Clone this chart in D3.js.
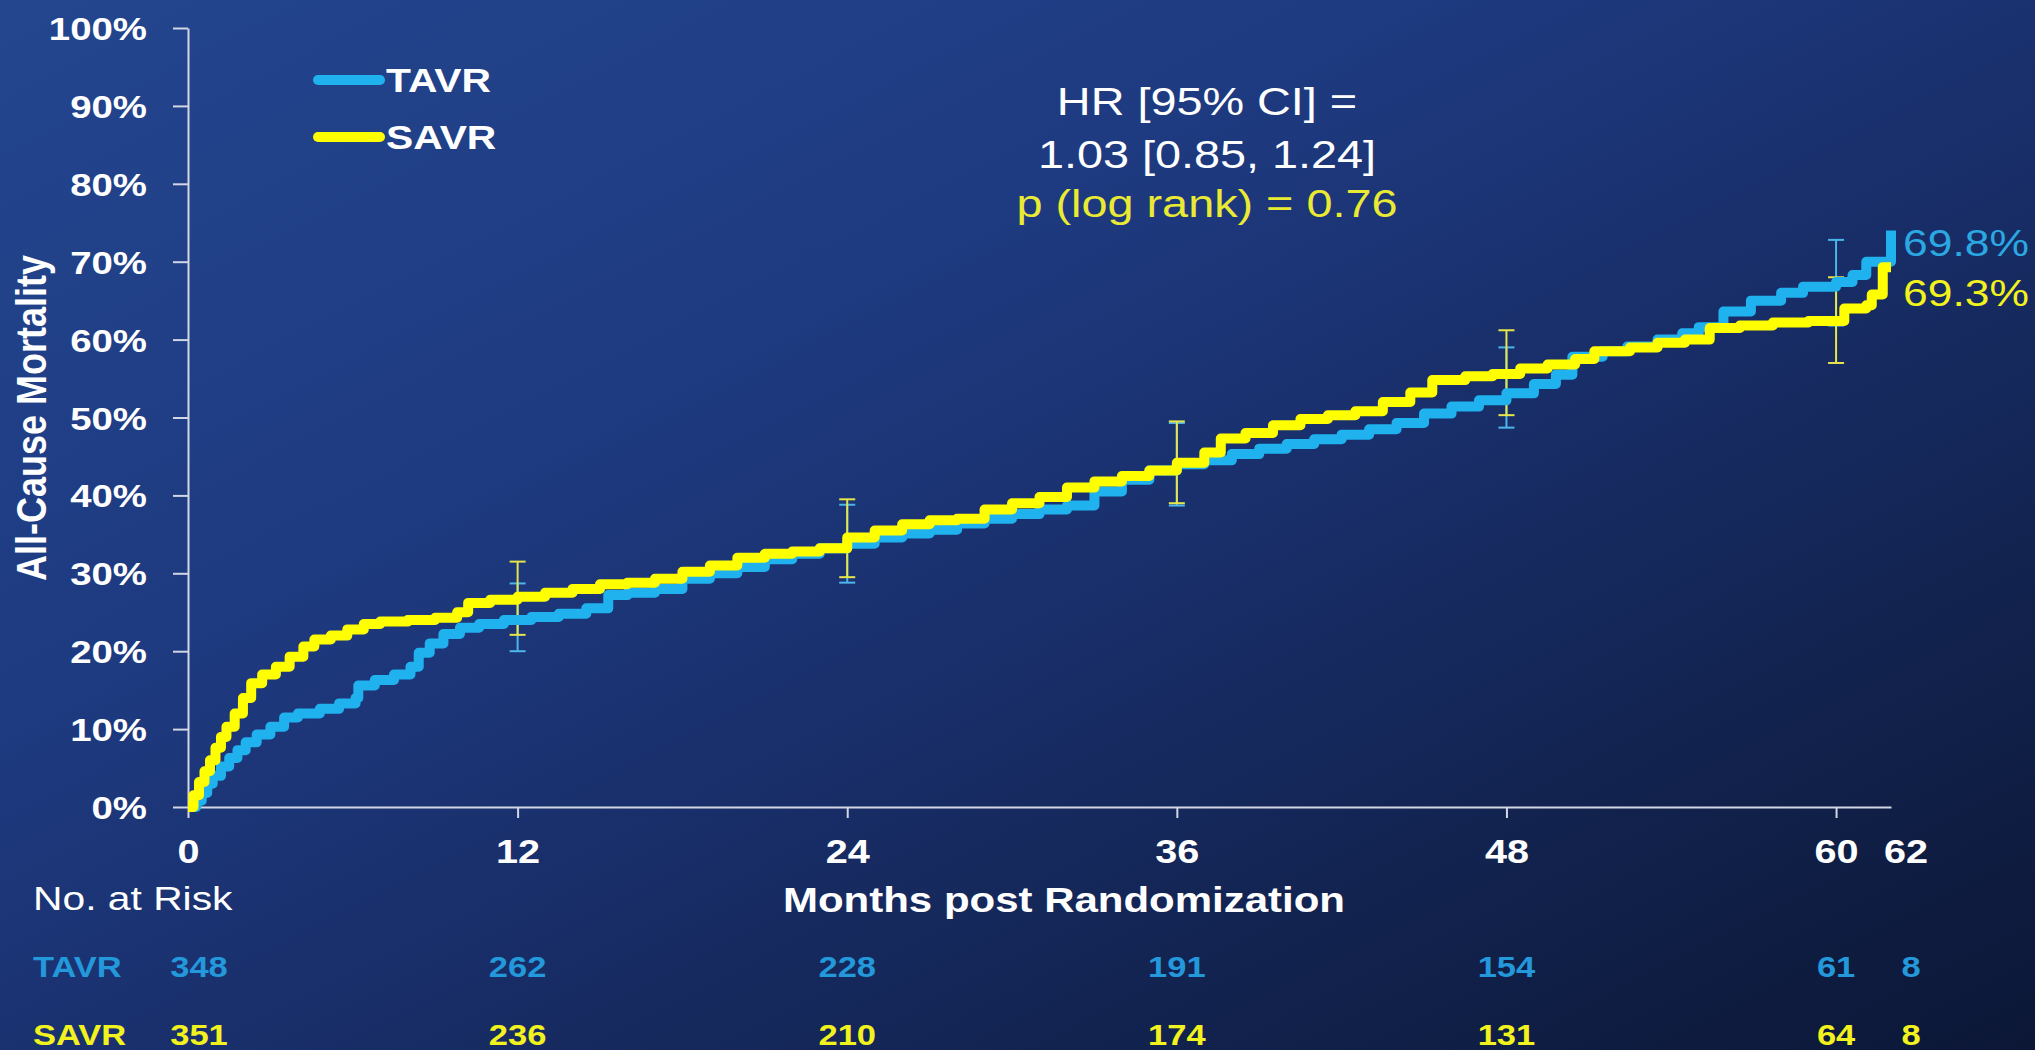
<!DOCTYPE html>
<html lang="en">
<head>
<meta charset="utf-8">
<title>All-Cause Mortality - TAVR vs SAVR</title>
<script src="https://cdn.jsdelivr.net/npm/d3@7"></script>
<style>
  html, body { margin: 0; padding: 0; background: #0c1736; }
  svg { display: block; }
</style>
</head>
<body>
<script>
// Kaplan-Meier curves, [month, % dead]
const tavrCurve = [
  [0,0],[0.3,0.8],[0.5,1.8],[0.7,3.0],[0.9,4.0],[1.2,5.2],[1.5,6.3],[1.8,7.3],[2.1,8.3],
  [2.5,9.3],[3.0,10.3],[3.5,11.5],[4.0,12.0],[4.8,12.6],[5.5,13.3],[6.1,14.0],[6.2,15.6],
  [6.8,16.3],[7.5,17.0],[8.1,18.0],[8.4,19.8],[8.8,21.0],[9.3,22.2],[9.9,23.0],[10.6,23.5],
  [11.5,24.0],[12.5,24.4],[13.5,24.8],[14.5,25.5],[15.3,27.2],[16,27.5],[17,28.0],[18,29.3],
  [19,30.0],[20,30.8],[21,31.8],[22,32.5],[23,33.2],[24,33.8],[25,34.6],[26,35.1],[27,35.6],
  [28,36.4],[29,37.0],[30,37.6],[31,38.2],[32,38.7],[33,40.5],[34,42.0],[35,43.2],[36,44.0],
  [37,44.5],[38,45.3],[39,46.0],[40,46.6],[41,47.2],[42,47.8],[43,48.5],[44,49.3],[45,50.5],
  [46,51.4],[47,52.2],[48,53.1],[49,54.3],[49.8,55.5],[50.4,57.8],[51.5,58.5],[52.4,59.1],
  [53.5,60.0],[54.4,60.8],[55,61.6],[55.9,63.6],[56.9,65.0],[58,66.0],[58.8,66.8],[60,67.4],
  [60.6,68.3],[61.1,70.0],[62,74.0]
];
const savrCurve = [
  [0,0],[0.2,1.5],[0.4,3.2],[0.6,4.6],[0.8,6.0],[1.0,7.6],[1.2,9.0],[1.4,10.3],[1.7,12.0],
  [2.0,14.0],[2.3,15.9],[2.7,17.0],[3.2,18.0],[3.7,19.3],[4.2,20.6],[4.6,21.5],[5.2,22.0],
  [5.8,22.8],[6.4,23.5],[7,23.8],[8,24.0],[9,24.3],[9.8,25.0],[10.2,26.2],[11,26.6],[12,27.0],
  [13,27.5],[14,28.0],[15,28.6],[16,28.8],[17,29.3],[18,30.2],[19,31.0],[20,32.0],[21,32.5],
  [22,32.8],[23,33.2],[24,34.6],[25,35.5],[26,36.3],[27,36.8],[28,37.0],[29,38.2],[30,39.0],
  [31,39.8],[32,41.0],[33,41.8],[34,42.5],[35,43.2],[36,44.2],[37,45.5],[37.6,47.3],[38.5,48.0],
  [39.5,49.0],[40.5,49.8],[41.5,50.3],[42.5,50.8],[43.5,52.0],[44.5,53.2],[45.3,54.8],[46.5,55.3],
  [47.5,55.6],[48.5,56.3],[49.5,56.8],[50.5,57.5],[51.2,58.5],[52.5,59.0],[53.5,59.6],[54.5,60.0],
  [55.4,61.5],[56.5,61.8],[57.7,62.2],[59,62.4],[60.3,64.0],[61.1,64.4],[61.3,65.8],[61.7,69.3],
  [62,69.3]
];

// 95% CI bars
const ciMonths = [12, 24, 36, 48, 60];
const tavrLow  = [20.0, 28.8, 38.7, 48.7, 61.8];
const tavrHigh = [28.7, 38.8, 49.3, 59.0, 72.8];
const savrLow  = [22.1, 29.5, 39.0, 50.3, 57.0];
const savrHigh = [31.5, 39.5, 49.5, 61.2, 68.0];

const yTicks = [0, 10, 20, 30, 40, 50, 60, 70, 80, 90, 100];
const xTicks = [0, 12, 24, 36, 48, 60];

// numbers at risk
const riskMonths = [0, 12, 24, 36, 48, 60, 62];
const tavrRisk = [348, 262, 228, 191, 154, 61, 8];
const savrRisk = [351, 236, 210, 174, 131, 64, 8];

const W = 2035, H = 1050;
const SX = 1.2;   // the slide text is stretched sideways
const FONT = "'Liberation Sans', Arial, sans-serif";
const blue = "#1fb2ee", yellow = "#ffff00", axisCol = "#d3d7e3";

const x = d3.scaleLinear().domain([0, 62]).range([188, 1891]);
const y = d3.scaleLinear().domain([0, 100]).range([807, 28]);

const svg = d3.select("body").append("svg")
  .attr("width", W).attr("height", H)
  .attr("font-family", FONT);

const grad = svg.append("defs").append("linearGradient")
  .attr("id", "bg").attr("x1", 0).attr("y1", 0).attr("x2", 1).attr("y2", 1);
[[0, "#23468f"], [0.35, "#1e3a80"], [0.55, "#192f6b"], [0.8, "#11214b"], [1, "#0c1736"]]
  .forEach(s => grad.append("stop").attr("offset", s[0]).attr("stop-color", s[1]));
svg.append("rect").attr("width", W).attr("height", H).attr("fill", "url(#bg)");

// helper for stretched text
function txt(parent, str, px, py, size, opts) {
  opts = opts || {};
  return parent.append("text")
    .attr("transform", `translate(${px},${py}) scale(${opts.sx || SX},1)` + (opts.rot ? ` rotate(${opts.rot})` : ""))
    .attr("text-anchor", opts.anchor || "start")
    .attr("font-size", size)
    .attr("font-weight", opts.bold ? "bold" : "normal")
    .attr("fill", opts.fill || "#fff")
    .text(str);
}

// y axis
const yAxis = svg.append("g")
  .attr("transform", `translate(${x(0)},0)`)
  .call(d3.axisLeft(y).tickValues(yTicks).tickSize(15).tickSizeOuter(0).tickFormat(d => d + "%"));
yAxis.attr("font-family", FONT).attr("font-size", 32).attr("font-weight", "bold");
yAxis.select(".domain").attr("stroke", axisCol).attr("stroke-width", 2);
yAxis.selectAll(".tick line").attr("stroke", axisCol).attr("stroke-width", 2);
yAxis.selectAll(".tick text")
  .attr("x", null).attr("dy", "0.36em").attr("fill", "#fff")
  .attr("transform", `translate(-41,0) scale(${SX},1)`);

// x axis
const xAxis = svg.append("g")
  .attr("transform", `translate(0,${y(0)})`)
  .call(d3.axisBottom(x).tickValues(xTicks).tickSize(11).tickSizeOuter(0));
xAxis.attr("font-family", FONT).attr("font-size", 33).attr("font-weight", "bold");
xAxis.select(".domain").attr("stroke", axisCol).attr("stroke-width", 2);
xAxis.selectAll(".tick line").attr("stroke", axisCol).attr("stroke-width", 2);
xAxis.selectAll(".tick text")
  .attr("y", null).attr("dy", null).attr("fill", "#fff")
  .attr("transform", `translate(0,56) scale(${SX},1)`);
txt(svg, "62", x(62) + 15, y(0) + 56, 33, { bold: true, anchor: "middle" });

// axis titles
txt(svg, "Months post Randomization", 1064, 912, 35, { bold: true, anchor: "middle" });
txt(svg, "All-Cause Mortality", 46, 418, 36, { bold: true, anchor: "middle", rot: -90 });

// CI bars
function ciBars(low, high, col, cap) {
  const g = svg.append("g").attr("stroke", col).attr("stroke-width", 2);
  ciMonths.forEach((m, i) => {
    g.append("line").attr("x1", x(m)).attr("x2", x(m)).attr("y1", y(low[i])).attr("y2", y(high[i]));
    [low[i], high[i]].forEach(v =>
      g.append("line").attr("x1", x(m) - cap).attr("x2", x(m) + cap).attr("y1", y(v)).attr("y2", y(v)));
  });
}
ciBars(tavrLow, tavrHigh, "#4cb6ea", 8);
ciBars(savrLow, savrHigh, "#e6e64a", 8);

// curves
const line = d3.line().x(d => x(d[0])).y(d => y(d[1])).curve(d3.curveStepAfter);
svg.append("path").datum(tavrCurve).attr("d", line)
  .attr("fill", "none").attr("stroke", blue).attr("stroke-width", 10).attr("stroke-linejoin", "round");
svg.append("path").datum(savrCurve).attr("d", line)
  .attr("fill", "none").attr("stroke", yellow).attr("stroke-width", 10).attr("stroke-linejoin", "round");

// end labels
txt(svg, "69.8%", 1903, 256, 37, { fill: "#2ba8e2" });
txt(svg, "69.3%", 1903, 306, 37, { fill: "#f2f21c" });

// legend
const legend = [["TAVR", blue, 80], ["SAVR", yellow, 137]];
legend.forEach(l => {
  svg.append("line").attr("x1", 318).attr("x2", 380).attr("y1", l[2]).attr("y2", l[2])
    .attr("stroke", l[1]).attr("stroke-width", 10).attr("stroke-linecap", "round");
  txt(svg, l[0], 386, l[2] + 12, 34, { bold: true });
});

// hazard ratio note
txt(svg, "HR [95% CI] =", 1207, 115, 39, { anchor: "middle" });
txt(svg, "1.03 [0.85, 1.24]", 1207, 168, 39, { anchor: "middle" });
txt(svg, "p (log rank) = 0.76", 1207, 217, 39, { anchor: "middle", fill: "#eaea34" });

// number at risk table
txt(svg, "No. at Risk", 33, 910, 34);
const rows = [["TAVR", tavrRisk, "#2398da", 977], ["SAVR", savrRisk, "#f2f21e", 1045]];
rows.forEach(r => {
  txt(svg, r[0], 33, r[3], 30, { bold: true, fill: r[2], sx: 1.15 });
  riskMonths.forEach((m, i) => {
    const off = m === 0 ? 11 : (m === 62 ? 20 : 0);
    txt(svg, r[1][i], x(m) + off, r[3], 30, { bold: true, fill: r[2], anchor: "middle", sx: 1.15 });
  });
});
</script>
</body>
</html>
